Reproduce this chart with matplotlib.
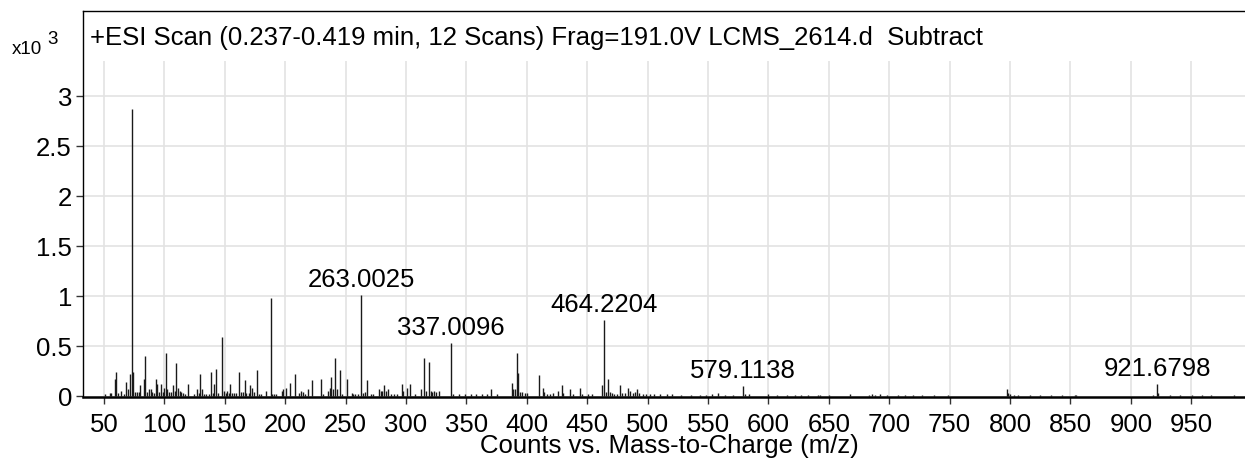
import numpy as np
import matplotlib.pyplot as plt

plt.rcParams['font.family'] = ['Liberation Sans', 'DejaVu Sans']

## data (counts x10^3) ##
mz = [50.6, 54.7, 56.1, 58.8, 59.9, 61.3, 64.3, 66.3, 68.5, 70.1, 71.5, 72.9, 74.3, 75.9, 77.3,
      79.0, 80.1, 82.8, 84.2, 85.6, 87.0, 88.6, 89.7, 91.1, 92.8, 94.2, 95.5, 96.9, 98.6, 99.9,
      101.0, 102.4, 103.8, 105.2, 107.1, 108.5, 109.9, 111.3, 112.6, 114.0, 115.4, 116.8, 119.8,
      124.2, 127.0, 128.4, 129.4, 131.1, 132.5, 134.2, 137.0, 138.3, 139.9, 141.3, 142.7, 144.4,
      148.0, 149.3, 150.7, 152.0, 153.4, 154.6, 156.0, 157.4, 159.6, 162.0, 163.4, 164.8, 166.4,
      167.8, 169.7, 171.1, 172.5, 174.2, 176.9, 178.3, 179.7, 183.8, 188.0, 189.4, 190.8, 192.7,
      197.1, 198.5, 201.0, 204.0, 207.8, 211.4, 213.4, 214.7, 216.1, 219.2, 222.5, 229.7, 231.1,
      235.8, 237.1, 238.2, 239.6, 241.0, 242.6, 245.1, 246.8, 250.9, 255.1, 256.5, 257.8, 260.6,
      263.0, 264.4, 266.1, 268.0, 270.8, 273.0, 277.7, 279.1, 280.5, 282.1, 283.5, 284.9, 287.6,
      290.4, 292.3, 296.5, 297.9, 300.6, 303.4, 307.5, 312.2, 315.0, 316.4, 319.1, 320.5, 321.9,
      323.3, 324.6, 327.4, 337.0, 338.6, 344.1, 348.8, 353.6, 358.2, 362.5, 366.7, 370.4, 375.1,
      387.5, 388.9, 390.3, 392.0, 393.0, 394.4, 395.8, 398.6, 400.0, 410.4, 413.1, 414.6, 416.5,
      419.2, 422.0, 426.1, 428.9, 430.3, 435.8, 438.5, 444.1, 445.5, 451.0, 453.7, 462.3, 464.2,
      465.6, 467.0, 469.0, 470.4, 471.8, 474.5, 477.2, 478.6, 481.3, 484.1, 485.5, 487.5, 489.6,
      491.5, 492.9, 496.5, 499.0, 502.0, 505.0, 510.0, 516.0, 520.0, 528.0, 536.0, 543.0, 548.0,
      553.0, 558.6, 564.0, 571.0, 579.1, 580.6, 584.0, 600.0, 607.0, 615.0, 622.0, 627.0, 633.0,
      641.0, 642.5, 650.0, 667.6, 683.0, 685.5, 688.0, 692.0, 698.0, 707.0, 713.0, 720.0, 727.0,
      737.0, 749.0, 797.2, 798.6, 800.0, 803.0, 807.0, 816.5, 825.0, 834.0, 843.0, 853.5, 854.5,
      918.7, 921.7, 922.8, 932.5, 941.0, 950.5, 959.0, 966.0, 985.0]
counts = [0.02, 0.03, 0.03, 0.17, 0.24, 0.03, 0.05, 0.02, 0.14, 0.07, 0.22, 2.87, 0.24, 0.04, 0.04,
          0.04, 0.11, 0.17, 0.40, 0.04, 0.07, 0.07, 0.04, 0.03, 0.17, 0.12, 0.04, 0.12, 0.04, 0.08,
          0.43, 0.07, 0.04, 0.04, 0.11, 0.05, 0.33, 0.08, 0.05, 0.04, 0.03, 0.02, 0.12,
          0.02, 0.07, 0.03, 0.22, 0.07, 0.02, 0.02, 0.02, 0.24, 0.03, 0.12, 0.27, 0.03,
          0.59, 0.05, 0.03, 0.05, 0.03, 0.12, 0.03, 0.03, 0.03, 0.24, 0.04, 0.04, 0.16,
          0.03, 0.03, 0.11, 0.08, 0.04, 0.26, 0.02, 0.02, 0.05, 0.98, 0.02, 0.02, 0.02,
          0.05, 0.07, 0.08, 0.13, 0.22, 0.03, 0.05, 0.04, 0.02, 0.07, 0.16, 0.17, 0.02,
          0.05, 0.08, 0.19, 0.07, 0.38, 0.07, 0.26, 0.02, 0.17, 0.03, 0.02, 0.02, 0.02,
          1.01, 0.03, 0.04, 0.16, 0.02, 0.02, 0.07, 0.05, 0.05, 0.11, 0.05, 0.07, 0.02,
          0.02, 0.02, 0.12, 0.05, 0.08, 0.12, 0.02, 0.07, 0.38, 0.05, 0.34, 0.05, 0.04,
          0.05, 0.04, 0.05, 0.53, 0.02, 0.02, 0.02, 0.02, 0.02, 0.02, 0.02, 0.07, 0.02,
          0.13, 0.07, 0.07, 0.43, 0.23, 0.04, 0.04, 0.03, 0.03, 0.21, 0.08, 0.04, 0.02,
          0.02, 0.03, 0.05, 0.11, 0.03, 0.07, 0.02, 0.08, 0.02, 0.02, 0.02, 0.11, 0.76,
          0.04, 0.17, 0.04, 0.03, 0.02, 0.02, 0.11, 0.03, 0.03, 0.08, 0.05, 0.03, 0.04,
          0.07, 0.03, 0.02, 0.02, 0.02, 0.02, 0.02, 0.02, 0.02, 0.01, 0.01, 0.01, 0.01,
          0.02, 0.03, 0.01, 0.01, 0.10, 0.02, 0.02, 0.02, 0.01, 0.01, 0.01, 0.01, 0.01,
          0.01, 0.01, 0.01, 0.02, 0.01, 0.02, 0.01, 0.02, 0.01, 0.01, 0.01, 0.01, 0.01,
          0.01, 0.01, 0.07, 0.03, 0.02, 0.01, 0.01, 0.01, 0.01, 0.01, 0.01, 0.01, 0.01,
          0.01, 0.12, 0.03, 0.01, 0.01, 0.01, 0.01, 0.01, 0.01]

# labelled peaks
label_mz = [263.0, 337.0, 464.2, 579.1, 921.7]
label_counts = [1.01, 0.53, 0.76, 0.10, 0.12]
label_text = ['263.0025', '337.0096', '464.2204', '579.1138', '921.6798']

xticks = np.arange(50, 1000, 50)
yticks = [0, 0.5, 1, 1.5, 2, 2.5, 3]
title = '+ESI Scan (0.237-0.419 min, 12 Scans) Frag=191.0V LCMS_2614.d  Subtract'

###################

fs = 18.5
W, H = 1245, 460
fig = plt.figure(figsize=(W/100, H/100), dpi=100)
ax = fig.add_axes([83/W, 62.5/H, 1 - 83/W, 385.5/H])

ymax_plot = 3.35  # top of the data area (title band above)
ax.set_xlim(32.6, 994.5)
ax.set_ylim(-0.008, 3.847)

# grid: horizontal full width, vertical only up to data area
for yt in yticks[1:]:
    ax.axhline(yt, color='#e3e3e3', lw=1.2, zorder=0)
ax.vlines(xticks, 0, ymax_plot, color='#e3e3e3', lw=1.2, zorder=0)

ax.vlines(mz, 0, counts, color='#1a1a1a', lw=1.0, zorder=2)

for x, y, t in zip(label_mz, label_counts, label_text):
    ax.annotate(t, (x, y), xytext=(0, 6), textcoords='offset points',
                ha='center', va='baseline', fontsize=fs)

ax.set_xticks(xticks)
ax.set_yticks(yticks)
ax.set_yticklabels(['0', '0.5', '1', '1.5', '2', '2.5', '3'])
ax.tick_params(axis='both', labelsize=fs, direction='out', length=5, width=1, color='#333333')
ax.tick_params(axis='x', pad=6)
ax.tick_params(axis='y', pad=3)

ax.spines['right'].set_visible(False)
ax.spines['bottom'].set_linewidth(1.8)
ax.spines['left'].set_linewidth(1.0)
ax.spines['top'].set_linewidth(1.0)

# x label sits tight under the tick labels
fig.text(669/W, 1 - 453/H, 'Counts vs. Mass-to-Charge (m/z)', fontsize=fs,
         ha='center', va='baseline')

fig.text(90/W, 1 - 45/H, title, fontsize=fs, va='baseline', ha='left')
fig.text(12/W, 1 - 54/H, 'x10', fontsize=13.5, va='baseline', ha='left')
fig.text(47/W, 1 - 44/H, '3', fontsize=13.5, va='baseline', ha='left')

plt.savefig('out.png', dpi=100)
